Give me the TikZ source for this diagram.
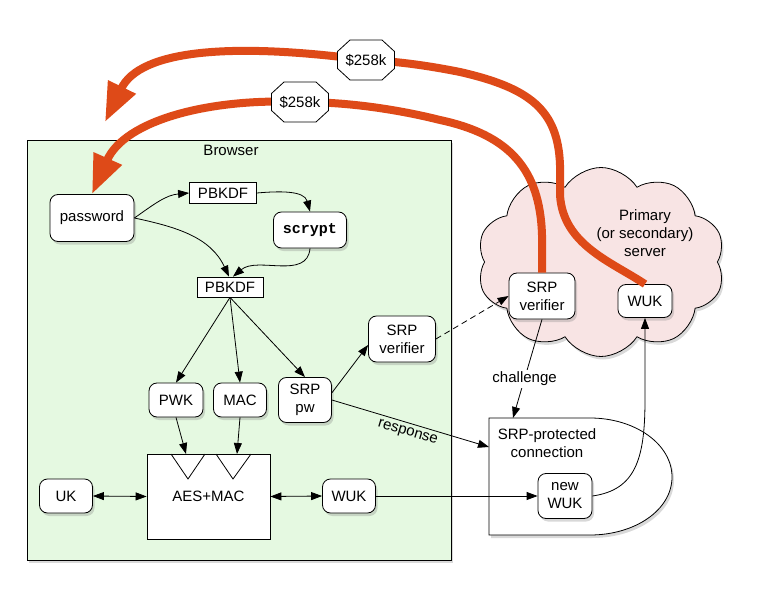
\documentclass[tikz,border=0pt]{standalone}
\usepackage{fontspec}
\setmainfont{Liberation Sans}
\setmonofont{Liberation Mono}
\usetikzlibrary{arrows.meta,shapes.symbols,shadows}
\definecolor{bgreen}{RGB}{229,249,225}
\definecolor{spink}{RGB}{248,228,228}
\definecolor{hred}{RGB}{222,74,24}
\tikzset{
 base/.style={font=\fontsize{15}{18}\selectfont, align=center, inner sep=0pt},
 shad/.style={drop shadow={opacity=0.3, shadow xshift=2pt, shadow yshift=-3pt}},
 rnode/.style={base, draw, fill=white, rounded corners=8pt, line width=0.8pt, shad},
 sqnode/.style={base, draw, fill=white, line width=0.8pt},
 arr/.style={line width=0.8pt, -{Triangle[length=11pt,width=8pt]}},
 darr/.style={line width=0.8pt, {Triangle[length=11pt,width=8pt]}-{Triangle[length=11pt,width=8pt]}},
 redarr/.style={line width=8pt, draw=hred, -{Triangle[length=39pt,width=29pt]}},
 octline/.style={draw, fill=white, line width=0.8pt},
 lbl/.style={base},
}
\newcommand\octagonat[1]{%
 \path[octline] ([shift={(-28.5,-8.5)}]#1) -- ([shift={(-16,-20)}]#1) -- ([shift={(16,-20)}]#1) -- ([shift={(28.5,-8.5)}]#1) -- ([shift={(28.5,8.5)}]#1) -- ([shift={(16,20)}]#1) -- ([shift={(-16,20)}]#1) -- ([shift={(-28.5,8.5)}]#1) -- cycle;}
\begin{document}
\begin{tikzpicture}[x=1pt,y=-1pt]
\useasboundingbox (0,0) rectangle (761,591);
% containers
\node[draw, fill=bgreen, line width=0.8pt, minimum width=424pt, minimum height=420pt, inner sep=0pt, shad] (browser) at (239,350) {};
\node[lbl] (browserlbl) at (231,150) {Browser};
\node[cloud, cloud puffs=10, cloud puff arc=115, cloud ignores aspect, draw, fill=spink, minimum width=248pt, minimum height=189pt, line width=0.8pt, shad] (cloud) at (601,262) {};
\node[lbl] (cloudlbl) at (645,233) {Primary\\(or secondary)\\server};
\draw[fill=white, line width=0.8pt, shad] (489,418) -- (590,418) .. controls (635,418) and (672,444) .. (672,477) .. controls (672,510) and (635,535) .. (590,535) -- (489,535) -- cycle;
\coordinate (connL) at (489,447);
\coordinate (connT) at (513,418);
\node[lbl] (connlbl) at (547,443) {SRP-protected\\connection};
% nodes
\node[rnode, minimum width=84pt, minimum height=47pt] (pw) at (92,218) {password};
\node[sqnode, minimum width=67pt, minimum height=21pt] (k1) at (223,193) {PBKDF};
\node[rnode, minimum width=73pt, minimum height=36pt] (sc) at (310,230) {\texttt{\bfseries scrypt}};
\node[sqnode, minimum width=66pt, minimum height=20pt] (k2) at (230,287) {PBKDF};
\node[rnode, minimum width=67pt, minimum height=46pt] (bver) at (402,339) {SRP\\verifier};
\node[rnode, minimum width=54pt, minimum height=34pt] (pwk) at (176,400) {PWK};
\node[rnode, minimum width=53pt, minimum height=34pt] (mac) at (240,400) {MAC};
\node[rnode, minimum width=53pt, minimum height=45pt] (srppw) at (305,400) {SRP\\pw};
\node[sqnode, minimum width=123pt, minimum height=85pt] (aes) at (208.5,496.5) {AES+MAC};
\draw[line width=0.8pt] (171,454) -- (188,479) -- (205,454);
\draw[line width=0.8pt] (216,454) -- (233,479) -- (251,454);
\coordinate (t1) at (186,454);
\coordinate (t2) at (237,454);
\node[rnode, minimum width=53pt, minimum height=34pt] (uk) at (66,496) {UK};
\node[rnode, minimum width=53pt, minimum height=34pt] (bwuk) at (349,496) {WUK};
\node[rnode, minimum width=54pt, minimum height=45pt] (nwuk) at (565,496) {new\\WUK};
\node[rnode, minimum width=66pt, minimum height=46pt] (sver) at (542,296) {SRP\\verifier};
\node[rnode, minimum width=54pt, minimum height=33pt] (swuk) at (645,301) {WUK};
% connectors
\draw[arr] (pw.east) to[out=35,in=185] (k1.west);
\draw[arr] (pw.east) to[out=-12,in=115] ([xshift=-1pt]k2.north);
\draw[arr] (k1.east) to[out=5,in=105] (sc.north);
\draw[arr] (sc.south) to[out=-95,in=40] ([xshift=3pt]k2.north);
\draw[arr] (k2.south) -- (pwk.north);
\draw[arr] (k2.south) -- (mac.north);
\draw[arr] (k2.south) -- (srppw.north);
\draw[arr] (pwk.south) -- (t1);
\draw[arr] (mac.south) -- (t2);
\draw[arr] (srppw.15) -- (bver.190);
\draw[arr, dash pattern=on 6pt off 4pt] (bver.east) -- (sver.west);
\draw[arr] (srppw.east) -- node[lbl, below, sloped, inner sep=4pt] {response} (connL);
\draw[arr] (sver.south) -- node[lbl, fill=white, inner sep=2pt, pos=0.6] {challenge} (connT);
\draw[darr] (uk.east) -- (aes.west);
\draw[darr] (aes.east) -- (bwuk.west);
\draw[arr] (bwuk.east) -- (nwuk.west);
\draw[arr] (nwuk.east) .. controls (635,490) and (645,460) .. (645,400) -- (swuk.south);
% red arrows
\coordinate (redtip) at (105,122);
\draw[redarr] (sver.north) -- (542,235) .. controls (540,170) and (510,135) .. (440,120) .. controls (400,110) and (350,102) .. (300,102) .. controls (210,98) and (125,120) .. (pw.north);
\draw[redarr] (swuk.north) .. controls (612,262) and (563,245) .. (560,195) -- (560,165) .. controls (558,110) and (530,88) .. (460,72) .. controls (420,64) and (390,61) .. (366,60) .. controls (230,42) and (140,50) .. (redtip);
\coordinate (o1c) at (366,60);
\coordinate (o2c) at (300,102);
\octagonat{o1c}
\octagonat{o2c}
\node[lbl] (o1) at (o1c) {\$258k};
\node[lbl] (o2) at (o2c) {\$258k};
\end{tikzpicture}
\end{document}
